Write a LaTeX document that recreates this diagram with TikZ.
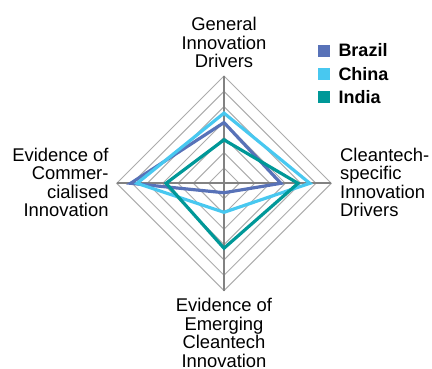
\documentclass[tikz,border=0pt]{standalone}
\usepackage{fontspec}
\setmainfont{Liberation Sans}
\usetikzlibrary{calc}
\definecolor{brazil}{RGB}{88,114,184}
\definecolor{china}{RGB}{72,200,240}
\definecolor{india}{RGB}{0,152,152}
\definecolor{gridc}{RGB}{172,172,172}
\definecolor{axisc}{RGB}{130,130,130}
\tikzset{
  gridline/.style={draw=gridc, line width=1pt},
  axisline/.style={draw=axisc, line width=1.6pt},
  series/.style={line width=3.2pt, line join=miter},
  lbl/.style={font=\fontsize{18.4}{18.6}\selectfont, inner sep=0pt, anchor=base},
  leg/.style={font=\fontsize{18}{18}\selectfont\bfseries, inner sep=0pt, anchor=base west},
  legbox/.style={minimum size=12pt, inner sep=0pt, draw=none}
}
\begin{document}
\begin{tikzpicture}[x=1pt,y=-1pt]
\useasboundingbox (0,0) rectangle (432,369);
\def\R{107.3}
\coordinate (c) at (224,183.3);
% grid
\foreach \k in {1,...,7}{
  \draw[gridline] ($(c)+(0,-\k*\R/7)$) -- ($(c)+(\k*\R/7,0)$) -- ($(c)+(0,\k*\R/7)$) -- ($(c)+(-\k*\R/7,0)$) -- cycle;
}
% axes
\draw[axisline] ($(c)+(0,-\R)$) -- ($(c)+(0,\R)$);
\draw[axisline] ($(c)+(-\R,0)$) -- ($(c)+(\R,0)$);
% series
\newcommand\radarseries[5]{%
  \draw[series,#1] ($(c)+(0,-#2*\R)$) -- ($(c)+(#3*\R,0)$) -- ($(c)+(0,#4*\R)$) -- ($(c)+(-#5*\R,0)$) -- cycle;}
\radarseries{brazil}{0.566}{0.53}{0.088}{0.87}
\radarseries{china}{0.654}{0.80}{0.27}{0.81}
\radarseries{india}{0.405}{0.69}{0.605}{0.54}
% axis labels
\node[lbl] (top1) at (224,30.7) {General};
\node[lbl] (top2) at (224,49.3) {Innovation};
\node[lbl] (top3) at (224,67.9) {Drivers};
\node[lbl,anchor=base west] (r1) at (340,161) {Cleantech-};
\node[lbl,anchor=base west] (r2) at (340,179.6) {specific};
\node[lbl,anchor=base west] (r3) at (340,198.2) {Innovation};
\node[lbl,anchor=base west] (r4) at (340,216.8) {Drivers};
\node[lbl,anchor=base east] (l1) at (108.7,161) {Evidence of};
\node[lbl,anchor=base east] (l2) at (108.7,179.6) {Commer-};
\node[lbl,anchor=base east] (l3) at (108.7,198.2) {cialised};
\node[lbl,anchor=base east] (l4) at (108.7,216.8) {Innovation};
\node[lbl] (b1) at (224,311.7) {Evidence of};
\node[lbl] (b2) at (224,330.3) {Emerging};
\node[lbl] (b3) at (224,348.9) {Cleantech};
\node[lbl] (b4) at (224,367.5) {Innovation};
% legend
\node[legbox,fill=brazil] (kb) at (324,50.8) {};
\node[legbox,fill=china] (kc) at (324,74.5) {};
\node[legbox,fill=india] (ki) at (324,97.5) {};
\node[leg] (tb) at (338.3,56.3) {Brazil};
\node[leg] (tc) at (338.3,80.3) {China};
\node[leg] (ti) at (338.3,103.3) {India};
\end{tikzpicture}
\end{document}
